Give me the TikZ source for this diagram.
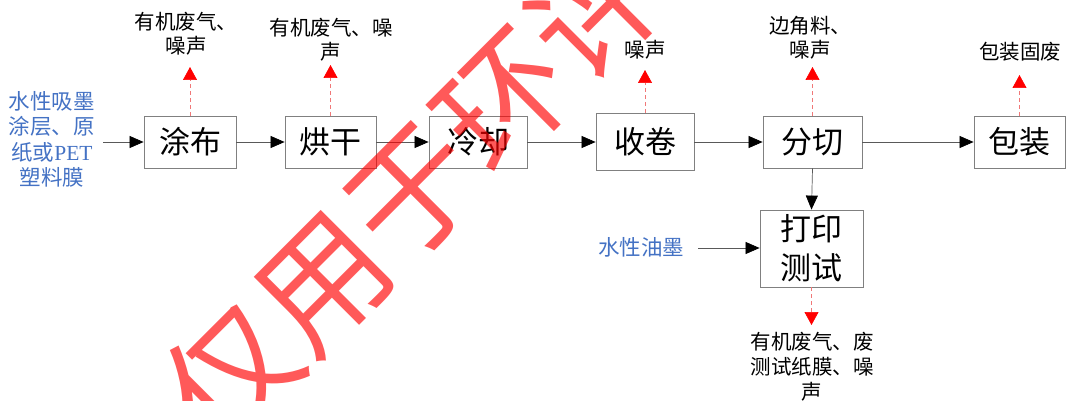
\documentclass[tikz,border=0pt]{standalone}
\usepackage{fontspec}
\setmainfont{Liberation Serif}
\newfontfamily\cjk{Noto Sans CJK SC}
\usetikzlibrary{arrows.meta}
\definecolor{inblue}{HTML}{4472C4}
\definecolor{boxgray}{HTML}{808080}
\definecolor{linegray}{HTML}{595959}
\definecolor{dashred}{HTML}{F07878}
\begin{document}
\begin{tikzpicture}[x=1pt,y=-1pt,
  proc/.style={draw=boxgray, fill=white, line width=0.8pt, minimum height=52pt, inner sep=0pt,
    font=\cjk\fontsize{31}{38}\selectfont},
  flow/.style={draw=linegray, line width=0.7pt, -{Triangle[length=14pt,width=12pt,color=black,fill=black]}},
  emis/.style={draw=dashred, dash pattern=on 4pt off 3pt, line width=0.7pt,
    -{Triangle[length=13pt,width=14pt,color=red,fill=red]}},
  lbl/.style={align=center, inner sep=0pt, font=\cjk\fontsize{20.5}{24}\selectfont},
  inlbl/.style={align=center, inner sep=0pt, text=inblue, font=\cjk\fontsize{21.5}{25.5}\selectfont}]
\path[use as bounding box] (0,0) rectangle (1067,401);

% process boxes
\node[proc, minimum width=92pt] (tb) at (190,142) {涂布};
\node[proc, minimum width=91pt] (hg) at (330.5,142) {烘干};
\node[proc, minimum width=98pt] (lq) at (478,142) {冷却};
\node[proc, minimum width=98pt, minimum height=57pt] (sj) at (645,141.5) {收卷};
\node[proc, minimum width=99pt] (fq) at (812.5,142) {分切};
\node[proc, minimum width=91pt] (bz) at (1019.5,142) {包装};
\node[proc, minimum width=103pt, minimum height=77pt, align=center,
  font=\cjk\fontsize{31}{39}\selectfont] (dy) at (811.5,248.5) {打印\\测试};

% inputs
\node[inlbl] (in) at (52,139.5) {水性吸墨\\涂层、原\\纸或{\fontspec{Liberation Serif}PET}\\塑料膜};
\node[inlbl] (ink) at (641,247) {水性油墨};
\coordinate (inS) at (103,142);
\coordinate (inkS) at (698,248);

% main flow
\draw[flow] (inS) -- (tb.west);
\draw[flow] (tb.east) -- (hg.west);
\draw[flow] (hg.east) -- (lq.west);
\draw[flow] (lq.east) -- (sj.west |- lq.east);
\draw[flow] (sj.east |- fq.west) -- (fq.west);
\draw[flow] (fq.east) -- (bz.west);
\draw[flow] (fq.south) -- (dy.north);
\draw[flow] (inkS) -- (dy.west |- inkS);

% emissions
\coordinate (e1) at (190,67);
\coordinate (e2) at (330.5,65);
\coordinate (e3) at (645,70);
\coordinate (e4) at (812.5,67);
\coordinate (e5) at (1019.5,75);
\coordinate (e6) at (811.5,325);
\draw[emis] (tb.north) -- (e1);
\draw[emis] (hg.north) -- (e2);
\draw[emis] (sj.north) -- (e3);
\draw[emis] (fq.north) -- (e4);
\draw[emis] (bz.north) -- (e5);
\draw[emis] (dy.south) -- (e6);

\node[lbl] (l1) at (186,33.5) {有机废气、\\噪声};
\node[lbl] (l2) at (331,40) {有机废气、噪\\声};
\node[lbl] (l3) at (645,50) {噪声};
\node[lbl] (l4) at (810,37.5) {边角料、\\噪声};
\node[lbl] (l5) at (1020,52) {包装固废};
\node[lbl, font=\cjk\fontsize{20.5}{25}\selectfont] (l6) at (812,367) {有机废气、废\\测试纸膜、噪\\声};

% watermark
\node[rotate=45, text=red, opacity=0.65, inner sep=0pt,
  font=\cjk\fontsize{129}{129}\selectfont] (wm) at (413,191) {仅用于环评};
\end{tikzpicture}
\end{document}
